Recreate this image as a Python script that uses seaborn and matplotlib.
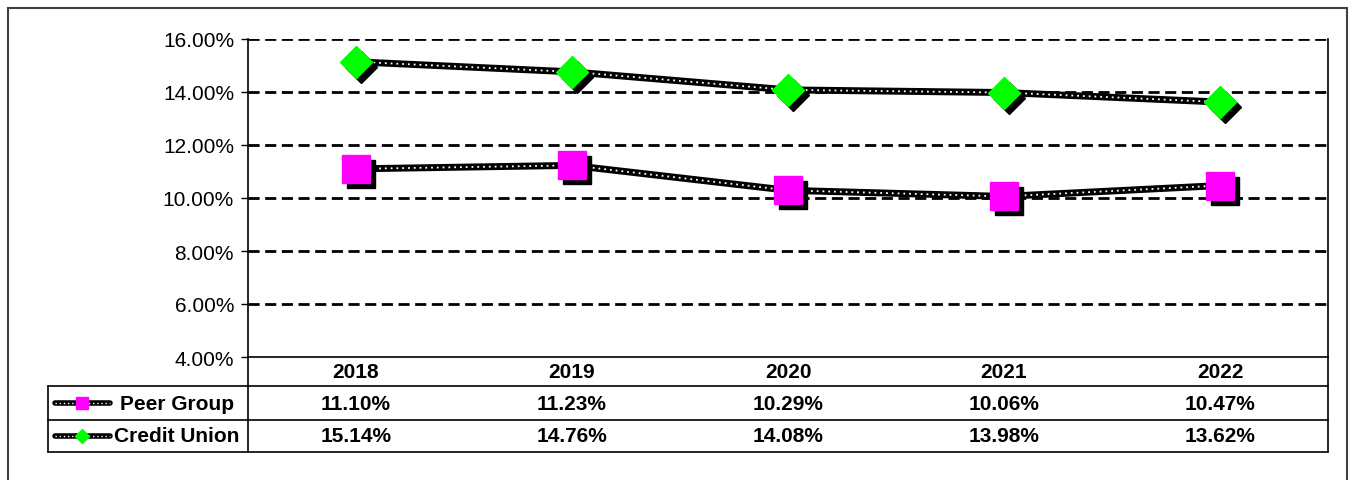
import matplotlib
matplotlib.use('Agg')
import matplotlib.pyplot as plt
import matplotlib.transforms as mtransforms
from matplotlib.lines import Line2D
from matplotlib.patches import Rectangle
import seaborn as sns
import pandas as pd

years = ['2018', '2019', '2020', '2021', '2022']
peer_group = [11.10, 11.23, 10.29, 10.06, 10.47]
credit_union = [15.14, 14.76, 14.08, 13.98, 13.62]
y_ticks = [4, 6, 8, 10, 12, 14, 16]

sns.set_style('white')
plt.rcParams['font.family'] = ['Liberation Sans', 'DejaVu Sans']
plt.rcParams['text.color'] = 'black'
plt.rcParams['ytick.color'] = 'black'
plt.rcParams['ytick.labelcolor'] = 'black'

W, H = 1354, 481
fig = plt.figure(figsize=(W / 100, H / 100), dpi=100)

# plot area in pixels
px_l, px_r, px_t, px_b = 248, 1328, 40, 358
ax = fig.add_axes([px_l / W, 1 - px_b / H, (px_r - px_l) / W, (px_b - px_t) / H])

df = pd.DataFrame({'x': range(len(years)), 'Peer Group': peer_group,
                   'Credit Union': credit_union})

series = [('Peer Group', 's', '#ff00ff', 20), ('Credit Union', 'D', '#00ff00', 16)]
shadow = mtransforms.offset_copy(ax.transData, fig=fig, x=5, y=-5, units='dots')

for name, mk, col, ms in series:
    # thick black line with white dots (Excel round-dot look)
    sns.lineplot(data=df, x='x', y=name, ax=ax, color='black', lw=5,
                 zorder=3, legend=False)
    ax.plot(df['x'], df[name], color='white', lw=1.3, ls=(0, (1, 2.2)),
            zorder=4)
    # marker shadow then marker
    ax.plot(df['x'], df[name], ls='none', marker=mk, ms=ms, color='black',
            mec='black', transform=shadow, zorder=5)
    ax.plot(df['x'], df[name], ls='none', marker=mk, ms=ms, color=col,
            mec=col, zorder=6)

ax.set_xlim(-0.5, len(years) - 0.5)
ax.set_ylim(4, 16)
ax.set_yticks(y_ticks)
ax.set_yticklabels([f'{v:.2f}%' for v in y_ticks], fontsize=15)
ax.set_xticks([])
ax.set_xlabel('')
ax.set_ylabel('')
ax.tick_params(axis='y', direction='out', length=5, width=1, color='black',
               left=True, pad=5)
for v in y_ticks[1:]:
    ax.axhline(v, color='black', lw=2, ls=(0, (4, 2)), zorder=1)
for side in ['left', 'right', 'bottom']:
    ax.spines[side].set_color('black')
    ax.spines[side].set_linewidth(1.2)
ax.spines['top'].set_visible(False)

# data table below the axis
def ay(py):
    return (px_b - py) / (px_b - px_t)

def axx(px):
    return (px - px_l) / (px_r - px_l)

blend = mtransforms.blended_transform_factory(ax.transData, ax.transAxes)
rows = [387, 421, 453]
tkw = dict(transform=ax.transAxes, color='black', lw=1.2, clip_on=False)
for r in rows:
    ax.add_line(Line2D([axx(48), 1], [ay(r), ay(r)], **tkw))
ax.add_line(Line2D([0, 0], [0, ay(453)], **tkw))
ax.add_line(Line2D([1, 1], [0, ay(453)], **tkw))
ax.add_line(Line2D([axx(48), axx(48)], [ay(387), ay(453)], **tkw))

row_y = [ay(372), ay(404), ay(437)]
tfont = dict(ha='center', va='center', fontsize=15, fontweight='bold',
             clip_on=False, transform=blend)
for i, yr in enumerate(years):
    ax.text(i, row_y[0], yr, **tfont)
    ax.text(i, row_y[1], f'{peer_group[i]:.2f}%', **tfont)
    ax.text(i, row_y[2], f'{credit_union[i]:.2f}%', **tfont)

for (name, mk, col, ms), ry, tx in zip(series, row_y[1:], [120, 114]):
    xs = [axx(55), axx(110)]
    ax.add_line(Line2D(xs, [ry, ry], transform=ax.transAxes, color='black',
                       lw=4, clip_on=False))
    ax.add_line(Line2D(xs, [ry, ry], transform=ax.transAxes, color='white',
                       lw=1, ls=(0, (1, 2)), clip_on=False))
    ax.add_line(Line2D([axx(82)], [ry], transform=ax.transAxes, ls='none',
                       marker=mk, ms=9 if mk == 's' else 7.5, color=col,
                       mec=col, clip_on=False))
    ax.text(axx(tx), ry, name, transform=ax.transAxes, ha='left',
            va='center', fontsize=15, fontweight='bold', clip_on=False)

# outer chart frame
fig.patches.append(Rectangle((8 / W, 1 - 500 / H), (1347 - 8) / W, (500 - 9) / H,
                             transform=fig.transFigure, fill=False,
                             edgecolor='#404040', lw=1.5))

fig.savefig('out.png', dpi=100)
